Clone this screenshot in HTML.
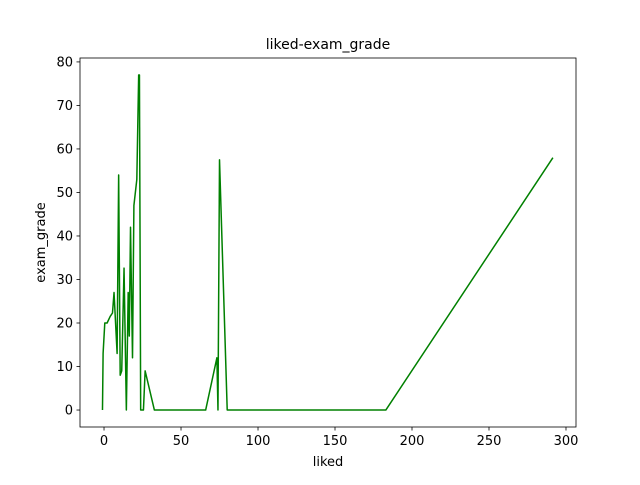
<!DOCTYPE html>
<html><head><meta charset="utf-8"><style>
body{margin:0;background:#fff;font-family:"Liberation Sans","DejaVu Sans",sans-serif}
</style></head><body>
<svg id="chart" width="640" height="480" xmlns="http://www.w3.org/2000/svg" font-family="DejaVu Sans, Liberation Sans, sans-serif"></svg>
<script>
const likedValues=[-1,-0.6,0.5,2,4,5.5,6.5,8.5,9.5,10.5,11.5,13,14.5,15.7,16.4,17.2,18.5,19.4,21.3,22.5,23,23.8,25.6,26.7,32.7,66,73.3,74,75,80,183,291.5];
const gradeValues=[0,13,20,20,21.5,22.3,27,13,54,8,9,32.6,0,27,17,42,12,47,53,77,77,0,0,9,0,0,12,0,57.5,0,0,58];
const xTicks=[0,50,100,150,200,250,300];
const yTicks=[0,10,20,30,40,50,60,70,80];
const L=80,R=576,T=58,B=427;
const xMin=-15.6,xMax=306.5,yMin=-3.9,yMax=80.9;
const sx=v=>L+(v-xMin)/(xMax-xMin)*(R-L);
const sy=v=>B-(v-yMin)/(yMax-yMin)*(B-T);
const svg=document.getElementById('chart');
const NS='http://www.w3.org/2000/svg';
function mk(tag,attrs,parent){const e=document.createElementNS(NS,tag);for(const k in attrs)e.setAttribute(k,attrs[k]);(parent||svg).appendChild(e);return e;}
let pts=likedValues.map((v,i)=>sx(v).toFixed(2)+','+sy(gradeValues[i]).toFixed(2)).join(' ');
const line=mk('polyline',{points:pts,fill:'none',stroke:'#008000','stroke-width':1.5,'stroke-linejoin':'round'});


const frame=mk('rect',{x:L,y:T,width:R-L,height:B-T,fill:'none',stroke:'#000','stroke-width':0.8});


xTicks.forEach(t=>{const x=sx(t);
 mk('line',{x1:x,x2:x,y1:B,y2:B+3.5,stroke:'#000','stroke-width':0.8});
 const tx=mk('text',{x:x,y:B+18,'text-anchor':'middle','font-size':13});tx.textContent=t;
 
 });
yTicks.forEach(t=>{const y=sy(t);
 mk('line',{x1:L-3.5,x2:L,y1:y,y2:y,stroke:'#000','stroke-width':0.8});
 const tx=mk('text',{x:L-7,y:y+4.5,'text-anchor':'end','font-size':13});tx.textContent=t;
 
 });
const xt=mk('text',{x:(L+R)/2,y:466,'text-anchor':'middle','font-size':13});xt.textContent='liked';


const yt=mk('text',{x:45,y:(T+B)/2,'text-anchor':'middle','font-size':13,transform:'rotate(-90 45 '+((T+B)/2)+')'});yt.textContent='exam_grade';


const ti=mk('text',{x:(L+R)/2,y:49,'text-anchor':'middle','font-size':14});ti.textContent='liked-exam_grade';


</script>
</body></html>
